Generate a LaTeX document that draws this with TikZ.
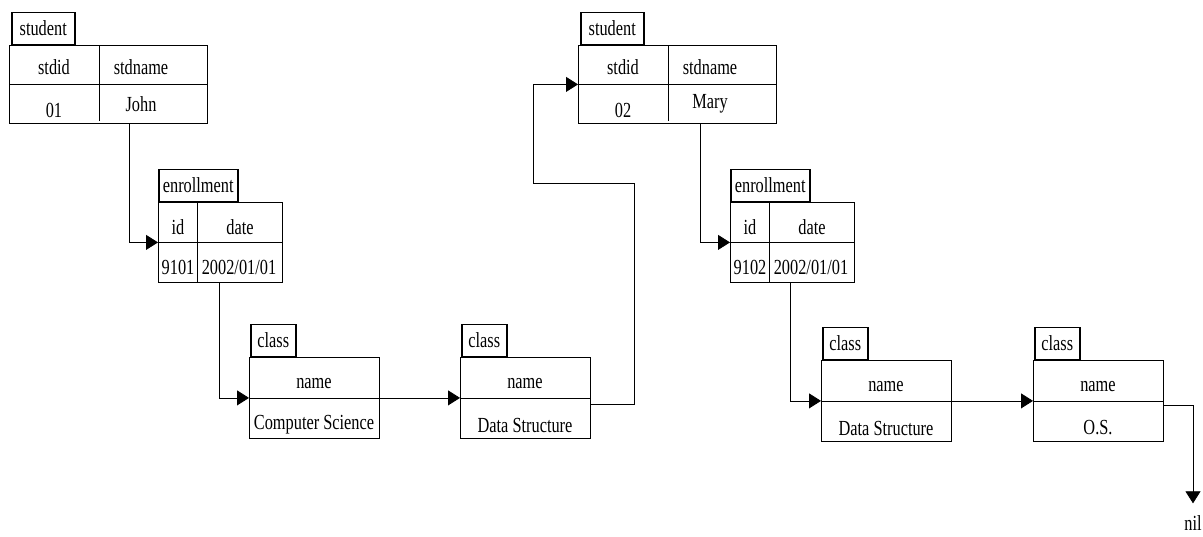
\documentclass[tikz,border=0pt]{standalone}
\usepackage{fontspec}
\setmainfont{Liberation Serif}[FakeStretch=0.76]
\usetikzlibrary{arrows.meta,calc,positioning}

\tikzset{
  tbl/.style={draw, line width=0.8pt, inner sep=0pt, anchor=north west},
  tag/.style={draw, line width=1.5pt, inner sep=0pt, minimum height=32pt, anchor=south west},
  rule/.style={line width=0.8pt},
  link/.style={line width=0.8pt, -{Triangle[length=12pt,width=15pt]}},
}

\begin{document}
\begin{tikzpicture}[x=1pt, y=-1pt, font=\fontsize{21.5}{24}\selectfont]
    \useasboundingbox (0,0) rectangle (1203,536);

    % student records
    \foreach \n/\x/\d/\v in {s1/9/01/John, s2/578/02/Mary}{
        \node[tbl, minimum width=198pt, minimum height=78pt] (\n) at (\x,45) {};
        \node[tag, minimum width=63pt] (\n t) at ($(\n.north west)+(2,0)$) {student};
        \draw[rule] (\n.west) -- (\n.east);
        \draw[rule] ($(\n.north west)+(90,0)$) -- ($(\n.south west)+(90,-3)$);
        \node (\n a) at ($(\n.north west)+(45,22)$) {stdid};
        \node (\n b) at ($(\n.north west)+(132,22)$) {stdname};
        \node (\n c) at ($(\n.north west)+(45,65)$) {\d};
        \node (\n d) at ($(\n.north west)+(132,59)$) {\v};
    }

    % enrollment records
    \foreach \n/\x/\i in {e1/158/9101, e2/730/9102}{
        \node[tbl, minimum width=124pt, minimum height=80pt] (\n) at (\x,202) {};
        \node[tag, minimum width=79pt] (\n t) at (\n.north west) {enrollment};
        \draw[rule] (\n.west) -- (\n.east);
        \draw[rule] ($(\n.north west)+(39,0)$) -- ($(\n.south west)+(39,0)$);
        \node (\n a) at ($(\n.north west)+(20,25)$) {id};
        \node (\n b) at ($(\n.north west)+(82,25)$) {date};
        \node (\n c) at ($(\n.north west)+(20,65)$) {\i};
        \node (\n d) at ($(\n.north west)+(81,65)$) {2002/01/01};
    }

    % class records
    \foreach \n/\x/\y/\t in {c1/249/357/Computer Science, c2/460/357/Data Structure,
                             c3/821/360/Data Structure, c4/1033/360/O.S.}{
        \node[tbl, minimum width=130pt, minimum height=81pt] (\n) at (\x,\y) {};
        \node[tag, minimum width=45pt] (\n t) at ($(\n.north west)+(1,0)$) {class};
        \draw[rule] (\n.west) -- (\n.east);
        \node (\n a) at ($(\n.north west)+(65,27)$) {name};
        \node (\n b) at ($(\n.north west)+(65,68)$) {\t};
    }

    \node[inner sep=0pt] (nil) at (1193,523) {nil};
    \coordinate (up) at (634,183);

    \draw[link] ($(s1.south west)+(120,0)$) |- (e1.west);
    \draw[link] ($(e1.south west)+(61,0)$) |- (c1.west);
    \draw[link] (c1.east) -- (c2.west);
    \draw[link] ($(c2.east)+(0,6)$) -| (up) -| ($(s2.west)+(-45,0)$) -- (s2.west);
    \draw[link] ($(s2.south west)+(122,0)$) |- (e2.west);
    \draw[link] ($(e2.south west)+(60,0)$) |- (c3.west);
    \draw[link] (c3.east) -- (c4.west);
    \draw[link, shorten >=12pt] ($(c4.east)+(0,4)$) -| (nil.north);
\end{tikzpicture}
\end{document}
